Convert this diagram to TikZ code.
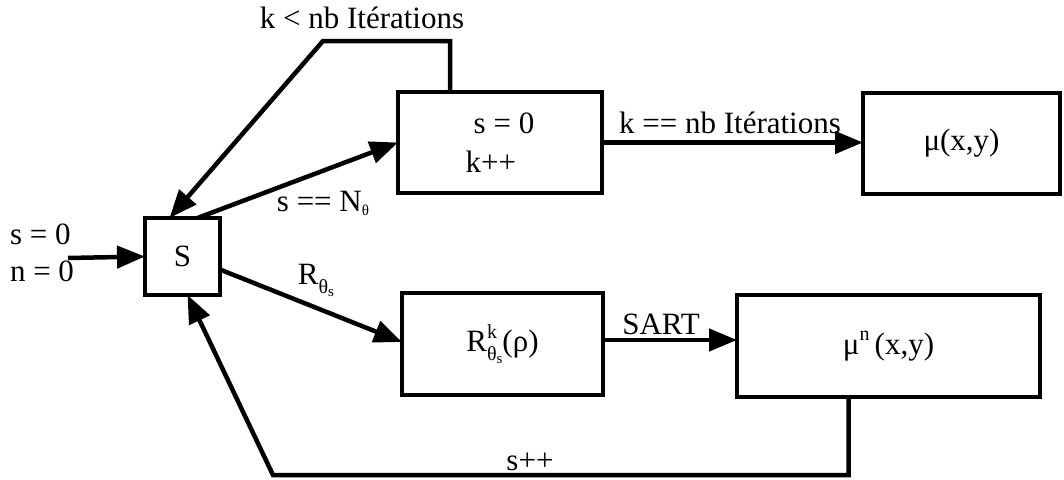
\documentclass[tikz,border=0pt]{standalone}
\usepackage{fontspec}
\setmainfont{Liberation Serif}
\usetikzlibrary{arrows.meta}
\newcommand{\smallfs}{\fontsize{20}{20}\selectfont}
\newcommand{\tinyfs}{\fontsize{15}{15}\selectfont}
\begin{document}
\begin{tikzpicture}[x=1pt,y=-1pt,
  font=\fontsize{31}{37}\selectfont,
  box/.style={draw,line width=4.5pt,inner sep=0pt,outer sep=0pt,align=center},
  conn/.style={line width=4.5pt,-{Triangle[length=28pt,width=22pt]}},
  lab/.style={inner sep=0pt}]
\useasboundingbox (0,0) rectangle (1064,479);
% boxes
\node[box,minimum width=75pt,minimum height=77pt] (S) at (182.5,256.5) {S};
\node[box,minimum width=204pt,minimum height=101pt,align=left] (b1) at (500,142.5) {\hspace*{8pt}s = 0\\[2pt]k++};
\node[box,minimum width=197pt,minimum height=101pt] (mu) at (961.5,143.5) {μ(x,y)};
\node[box,minimum width=201pt,minimum height=102pt] (R) at (502.5,344) {R\rlap{\raisebox{13pt}{\smallfs k}}\raisebox{-9pt}{\smallfs θ\raisebox{-3pt}{\tinyfs s}}(ρ)};
\node[box,minimum width=303pt,minimum height=102pt] (mun) at (888.5,346) {μ\raisebox{14pt}{\smallfs n}\,(x,y)};
% coordinates
\coordinate (in) at (68,258);
\coordinate (c1) at (323,41);
\coordinate (c2) at (273,475);
% labels
\node[lab,align=left] (init) at (42,253) {s = 0\\n = 0};
\node[lab] (lk) at (362,18) {k < nb Itérations};
\node[lab] (lkeq) at (730,123) {k == nb Itérations};
\node[lab] (lsn) at (323,203) {s == N\raisebox{-4pt}{\tinyfs θ}};
\node[lab] (lr) at (316,280) {R\raisebox{-9pt}{\smallfs θ\raisebox{-3pt}{\tinyfs s}}};
\node[lab] (lsart) at (661,324) {SART};
\node[lab] (lspp) at (530,462) {s++};
% connectors
\draw[conn] (in) -- (S.west);
\draw[conn] ([xshift=15pt]S.north) -- (b1.west);
\draw[conn] ([xshift=-50pt]b1.north) |- (c1) -- ([xshift=-13pt]S.north);
\draw[conn] (b1.east) -- (b1.east -| mu.west);
\draw[conn] ([yshift=-13pt]S.east) -- ([yshift=2pt]R.west);
\draw[conn] ([yshift=4pt]R.east) -- ([yshift=4pt]R.east -| mun.west);
\draw[conn] ([xshift=-40pt]mun.south) |- (c2) -- ([xshift=5pt]S.south);
\end{tikzpicture}
\end{document}
